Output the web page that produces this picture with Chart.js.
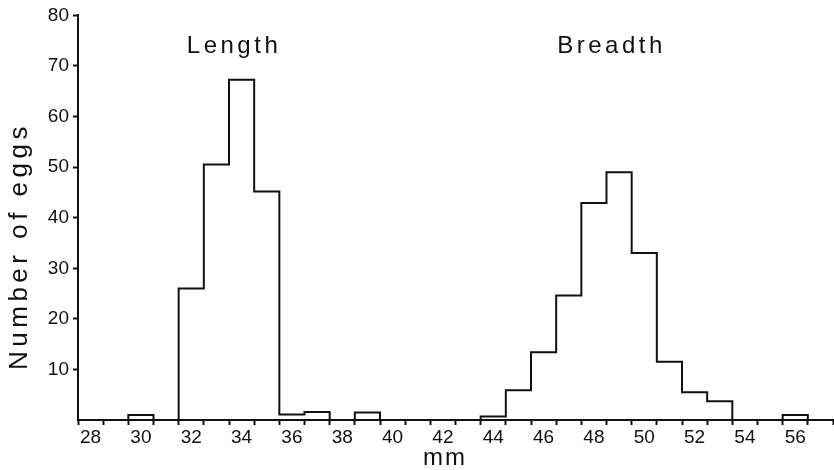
<!DOCTYPE html>
<html>
<head>
<meta charset="utf-8">
<script src="https://cdn.jsdelivr.net/npm/chart.js@4.4.1/dist/chart.umd.min.js"></script>
<style>
  body { margin: 0; background: #fff; }
  #wrap { width: 834px; height: 470px; }
</style>
</head>
<body>
<div id="wrap"><canvas id="eggs"></canvas></div>
<script>
// egg size histograms, one bin per mm (bins centred on whole mm)
const lengthBins = [28, 29, 30, 31, 32, 33, 34, 35, 36, 37, 38, 39, 40];
const lengthCounts = [0, 0, 1, 0, 26, 50.5, 67.3, 45.2, 1.1, 1.6, 0, 1.5, 0];
const breadthBins = [43, 44, 45, 46, 47, 48, 49, 50, 51, 52, 53, 54, 55, 56, 57];
const breadthCounts = [0, 0.7, 5.9, 13.4, 24.6, 42.9, 49, 33, 11.5, 5.5, 3.7, 0, 0, 1, 0];

const xTickLabels = [28, 30, 32, 34, 36, 38, 40, 42, 44, 46, 48, 50, 52, 54, 56];
const yTickLabels = [10, 20, 30, 40, 50, 60, 70, 80];
const groupNames = ['Length', 'Breadth'];
const groupNameX = [33.7, 48.7];
const groupNameY = [72.5, 72.5];

const ink = '#111';
const fontFam = '"Liberation Sans", Arial, Helvetica, sans-serif';

// outline of a histogram: a point on each left bin edge, closed on the last right edge
function outline(bins, counts) {
  let pts = bins.map((b, i) => ({x: b - 0.5, y: counts[i]}));
  pts.push({x: bins[bins.length - 1] + 0.5, y: 0});
  return pts;
}

let halfTicks = [];
for (let v = 27.5; v <= 57.5; v += 1) halfTicks.push(v);

const textPlugin = {
  id: 'eggText',
  afterDraw(chart) {
    const ctx = chart.ctx;
    const x = chart.scales.x, y = chart.scales.y;
    ctx.save();
    ctx.fillStyle = ink;
    ctx.textAlign = 'center';
    ctx.textBaseline = 'alphabetic';
    ctx.font = '24px ' + fontFam;
    ctx.letterSpacing = '3.5px';
    for (let i = 0; i < groupNames.length; i++) {
      ctx.fillText(groupNames[i], x.getPixelForValue(groupNameX[i]), y.getPixelForValue(groupNameY[i]));
    }
    // axis titles
    ctx.letterSpacing = '2px';
    ctx.fillText('mm', 445, 465);
    ctx.translate(27, 246);
    ctx.rotate(-Math.PI / 2);
    ctx.font = '26px ' + fontFam;
    ctx.letterSpacing = '4.5px';
    ctx.fillText('Number of eggs', 0, 0);
    ctx.restore();
  }
};

new Chart(document.getElementById('eggs'), {
  type: 'line',
  data: {
    datasets: [
      {label: 'Length', data: outline(lengthBins, lengthCounts)},
      {label: 'Breadth', data: outline(breadthBins, breadthCounts)}
    ]
  },
  options: {
    responsive: true,
    maintainAspectRatio: false,
    animation: false,
    layout: {padding: {left: 0, right: 1, top: 15, bottom: 0}},
    elements: {
      line: {borderColor: ink, borderWidth: 2, stepped: true, tension: 0, fill: false},
      point: {radius: 0}
    },
    plugins: {
      legend: {display: false},
      tooltip: {enabled: false}
    },
    scales: {
      x: {
        type: 'linear',
        min: 27.5,
        max: 57.5,
        afterBuildTicks: s => {
          s.ticks = halfTicks.concat(xTickLabels).sort((a, b) => a - b).map(v => ({value: v}));
        },
        afterFit: s => { s.height = 50; },
        border: {display: true, color: ink, width: 2},
        grid: {
          drawOnChartArea: false,
          drawTicks: true,
          tickLength: 5,
          tickWidth: 2,
          tickColor: c => (c.tick && Number.isInteger(c.tick.value)) ? 'rgba(0,0,0,0)' : ink
        },
        ticks: {
          autoSkip: false,
          maxRotation: 0,
          padding: 1,
          color: ink,
          font: {size: 19, family: fontFam},
          callback: v => xTickLabels.includes(v) ? String(v) : ''
        }
      },
      y: {
        min: 0,
        max: 80,
        afterBuildTicks: s => {
          s.ticks = [0].concat(yTickLabels).map(v => ({value: v}));
        },
        afterFit: s => { s.width = 78; },
        border: {display: true, color: ink, width: 2},
        grid: {
          drawOnChartArea: false,
          drawTicks: true,
          tickLength: 5,
          tickWidth: 2,
          tickColor: c => (c.tick && c.tick.value === 0) ? 'rgba(0,0,0,0)' : ink
        },
        ticks: {
          padding: 4,
          color: ink,
          font: {size: 19, family: fontFam},
          callback: v => v === 0 ? '' : String(v)
        }
      }
    }
  },
  plugins: [textPlugin]
});
</script>
</body>
</html>
